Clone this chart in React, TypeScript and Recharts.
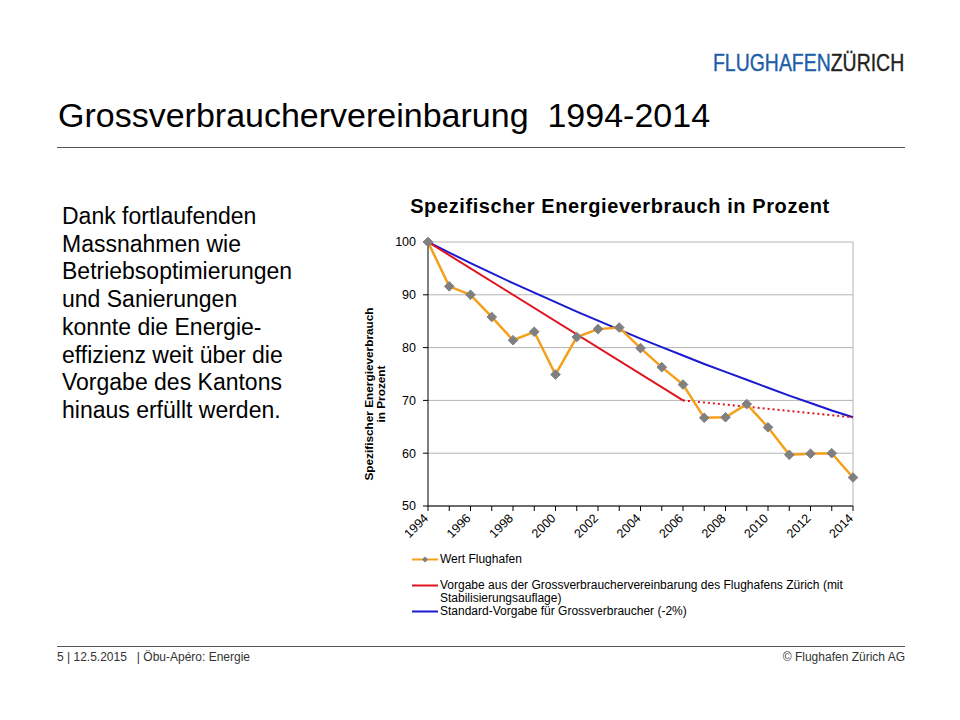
import { LineChart, Line, XAxis, YAxis, CartesianGrid, ReferenceLine } from "recharts";

if (typeof document !== "undefined") document.body.style.margin = "0";

const FONT = '"Liberation Sans", Arial, sans-serif';

const years = [1994, 1995, 1996, 1997, 1998, 1999, 2000, 2001, 2002, 2003, 2004, 2005, 2006, 2007, 2008, 2009, 2010, 2011, 2012, 2013, 2014];
const wertFlughafen = [100, 91.6, 90.0, 85.8, 81.4, 83.0, 74.9, 82.0, 83.5, 83.8, 79.9, 76.3, 73.0, 66.7, 66.8, 69.3, 64.9, 59.7, 59.9, 60.0, 55.4];
// red target: straight from 1994 to 2006, then dotted stabilisation to 2014
const vorgabeGv = [100, null, null, null, null, null, null, null, null, null, null, null, 70, null, null, null, null, null, null, null, null];
const vorgabeStabil = [null, null, null, null, null, null, null, null, null, null, null, null, 70, null, null, null, null, null, null, null, 66.8];
const standardVorgabe = [100, 98.0, 96.0, 94.1, 92.2, 90.4, 88.6, 86.8, 85.1, 83.4, 81.7, 80.1, 78.5, 76.9, 75.4, 73.9, 72.4, 70.9, 69.5, 68.1, 66.8];
const yTicks = [50, 60, 70, 80, 90, 100];
const xLabelYears = [1994, 1996, 1998, 2000, 2002, 2004, 2006, 2008, 2010, 2012, 2014];

const data = years.map((year, i) => ({
  year,
  wert: wertFlughafen[i],
  gv: vorgabeGv[i],
  stabil: vorgabeStabil[i],
  standard: standardVorgabe[i],
}));

const ORANGE = "#f5a01a";
const RED = "#e0141e";
const BLUE = "#1a1ad0";
const GREY = "#808080";

function Diamond(props: any) {
  const { cx, cy } = props;
  if (cx == null || cy == null) return <g key={props.key} />;
  const r = 4.8;
  return (
    <polygon
      key={props.key}
      points={`${cx},${cy - r} ${cx + r},${cy} ${cx},${cy + r} ${cx - r},${cy}`}
      fill={GREY}
      stroke={GREY}
    />
  );
}

function XTick(props: any) {
  const { x, y, payload } = props;
  if (!xLabelYears.includes(payload.value)) return <g />;
  return (
    <text
      transform={`translate(${x + 1},${y + 6}) rotate(-45)`}
      textAnchor="end"
      fontSize={12.5}
      fontFamily={FONT}
      fill="#000"
    >
      {payload.value}
    </text>
  );
}

function LegendRow({ top, color, diamond, children }: any) {
  return (
    <div style={{ position: "absolute", left: 410, top, fontSize: 12, lineHeight: "13px" }}>
      <svg width={30} height={12} style={{ position: "absolute", left: 0, top: 0 }}>
        <line x1={2} y1={6.5} x2={28} y2={6.5} stroke={color} strokeWidth={2} />
        {diamond && <polygon points="15,3.5 18,6.5 15,9.5 12,6.5" fill={GREY} />}
      </svg>
      <div style={{ marginLeft: 30, width: 430 }}>{children}</div>
    </div>
  );
}

export default function App() {
  return (
    <div style={{ position: "relative", width: 960, height: 720, background: "#fff", fontFamily: FONT, color: "#000", overflow: "hidden" }}>
      {/* logo */}
      <div style={{ position: "absolute", left: 713, top: 51, fontSize: 24, lineHeight: "24px", transform: "scaleX(0.81)", transformOrigin: "left top", whiteSpace: "nowrap", WebkitTextStroke: "0.4px currentColor" }}>
        <span style={{ color: "#1d5ea8" }}>FLUGHAFEN</span>
        <span style={{ color: "#231f20" }}>ZÜRICH</span>
      </div>

      <div style={{ position: "absolute", left: 58, top: 98, fontSize: 34, lineHeight: "34px", whiteSpace: "pre" }}>
        {"Grossverbrauchervereinbarung  1994-2014"}
      </div>
      <div style={{ position: "absolute", left: 57, top: 147, width: 848, height: 1, background: "#555" }} />

      <div style={{ position: "absolute", left: 62, top: 203, fontSize: 23, lineHeight: "27.7px", whiteSpace: "nowrap" }}>
        Dank fortlaufenden<br />
        Massnahmen wie<br />
        Betriebsoptimierungen<br />
        und Sanierungen<br />
        konnte die Energie-<br />
        effizienz weit über die<br />
        Vorgabe des Kantons<br />
        hinaus erfüllt werden.
      </div>

      <div style={{ position: "absolute", left: 380, top: 196, width: 480, textAlign: "center", fontSize: 20, lineHeight: "20px", fontWeight: "bold", letterSpacing: 0.6, whiteSpace: "nowrap" }}>
        Spezifischer Energieverbrauch in Prozent
      </div>

      <div style={{ position: "absolute", left: 340, top: 225 }}>
        <LineChart width={540} height={330} data={data} margin={{ top: 17, right: 27, left: 0, bottom: 0 }}>
          <CartesianGrid vertical={false} stroke="#b4b4b4" />
          <ReferenceLine x={2014} stroke="#b4b4b4" />
          <XAxis
            dataKey="year"
            type="number"
            domain={[1994, 2014]}
            ticks={years}
            interval={0}
            tickSize={5}
            height={49}
            axisLine={{ stroke: "#000" }}
            tickLine={{ stroke: "#000" }}
            tick={<XTick />}
          />
          <YAxis
            type="number"
            domain={[50, 100]}
            ticks={yTicks}
            interval={0}
            width={88}
            tickSize={5}
            tickMargin={7}
            axisLine={{ stroke: "#000" }}
            tickLine={{ stroke: "#000" }}
            tick={{ fontSize: 12.5, fill: "#000", fontFamily: FONT }}
          />
          <Line dataKey="standard" stroke={BLUE} strokeWidth={2} dot={false} activeDot={false} isAnimationActive={false} />
          <Line dataKey="gv" stroke={RED} strokeWidth={2} dot={false} activeDot={false} connectNulls isAnimationActive={false} />
          <Line dataKey="stabil" stroke={RED} strokeWidth={2} strokeDasharray="2 3" dot={false} activeDot={false} connectNulls isAnimationActive={false} />
          <Line dataKey="wert" stroke={ORANGE} strokeWidth={2.5} dot={<Diamond />} activeDot={false} isAnimationActive={false} />
        </LineChart>
      </div>

      {/* y axis title */}
      <div style={{ position: "absolute", left: 375, top: 395, width: 0, height: 0 }}>
        <div style={{ position: "absolute", left: -100, top: -13, width: 200, textAlign: "center", fontSize: 11.8, lineHeight: "12px", fontWeight: "bold", transform: "rotate(-90deg)", whiteSpace: "nowrap" }}>
          Spezifischer Energieverbrauch<br />in Prozent
        </div>
      </div>

      <LegendRow top={553} color={ORANGE} diamond>Wert Flughafen</LegendRow>
      <LegendRow top={579} color={RED}>
        Vorgabe aus der Grossverbrauchervereinbarung des Flughafens Zürich (mit<br />Stabilisierungsauflage)
      </LegendRow>
      <LegendRow top={605} color={BLUE}>Standard-Vorgabe für Grossverbraucher (-2%)</LegendRow>

      <div style={{ position: "absolute", left: 57, top: 646, width: 848, height: 1, background: "#555" }} />
      <div style={{ position: "absolute", left: 57, top: 651, fontSize: 12, lineHeight: "12px", color: "#333", whiteSpace: "pre" }}>
        {"5 | 12.5.2015   | Öbu-Apéro: Energie"}
      </div>
      <div style={{ position: "absolute", right: 55, top: 651, fontSize: 12, lineHeight: "12px", color: "#333", whiteSpace: "nowrap" }}>
        © Flughafen Zürich AG
      </div>
    </div>
  );
}
